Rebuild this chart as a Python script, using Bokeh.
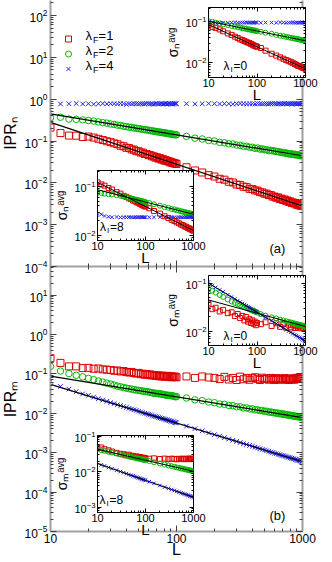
from bokeh.plotting import figure
from bokeh.models import (Range1d, LogAxis, FixedTicker, LogTickFormatter,
                          NumeralTickFormatter, CustomJSTickFormatter, Label, Legend, LegendItem)
from bokeh.layouts import column
from bokeh.embed import file_html
from bokeh.resources import INLINE

# ---------------------------------------------------------------- data
L_main = [10, 12, 14, 16, 18, 20, 22, 24, 26, 28, 30, 32, 34, 36, 38, 40, 42, 44, 46, 48,
          50, 52, 54, 56, 58, 60, 62, 64, 66, 68, 70, 72, 74, 76, 78, 80, 82, 84, 86, 88,
          90, 92, 94, 96, 98, 100,
          120, 140, 160, 180, 200, 220, 240, 260, 280, 300, 320, 340, 360, 380, 400, 420,
          440, 460, 480, 500, 520, 540, 560, 580, 600, 620, 640, 660, 680, 700, 720, 740,
          760, 780, 800, 820, 840, 860, 880, 900, 920, 940, 960, 980, 1000]

# panel (a): IPR_n
ipr_n_lam1 = [0.21, 0.155, 0.135, 0.134, 0.125, 0.128, 0.121, 0.113, 0.106, 0.099,
              0.094, 0.088, 0.084, 0.077, 0.075, 0.069, 0.068, 0.063, 0.062, 0.057,
              0.057, 0.053, 0.053, 0.049, 0.049, 0.046, 0.046, 0.043, 0.043, 0.040,
              0.041, 0.038, 0.039, 0.036, 0.037, 0.034, 0.035, 0.033, 0.0335, 0.031,
              0.032, 0.030, 0.0305, 0.029, 0.0292, 0.0283,
              0.0236, 0.0198, 0.0177, 0.0153, 0.0142, 0.0125, 0.0119, 0.0106, 0.0102, 0.0091,
              0.0089, 0.0081, 0.0079, 0.0072, 0.0071, 0.0066, 0.0065, 0.0060, 0.0059, 0.0055,
              0.0055, 0.0051, 0.0051, 0.0047, 0.0047, 0.0044, 0.0045, 0.0041, 0.0042, 0.0039,
              0.0040, 0.0037, 0.0038, 0.0035, 0.0036, 0.0033, 0.0034, 0.0032, 0.0033, 0.0030,
              0.0031, 0.0029, 0.0030, 0.0028, 0.0028]
ipr_n_lam2 = [0.36, 0.37, 0.335, 0.33, 0.32, 0.31, 0.30, 0.287, 0.275, 0.268,
              0.255, 0.25, 0.24, 0.235, 0.226, 0.222, 0.215, 0.212, 0.205, 0.203,
              0.197, 0.195, 0.189, 0.188, 0.183, 0.182, 0.177, 0.176, 0.171, 0.171,
              0.166, 0.166, 0.162, 0.162, 0.157, 0.158, 0.154, 0.154, 0.15, 0.15,
              0.146, 0.147, 0.143, 0.144, 0.14, 0.141,
              0.129, 0.117, 0.112, 0.103, 0.100, 0.093, 0.091, 0.086, 0.085, 0.080,
              0.079, 0.075, 0.075, 0.071, 0.071, 0.067, 0.068, 0.064, 0.065, 0.062,
              0.062, 0.059, 0.060, 0.058, 0.058, 0.056, 0.056, 0.054, 0.054, 0.052,
              0.053, 0.051, 0.051, 0.049, 0.050, 0.048, 0.049, 0.047, 0.048, 0.046,
              0.047, 0.045, 0.046, 0.044, 0.0445]
L_main_lam4 = L_main[1:]
ipr_n_lam4 = [0.77, 0.78, 0.79, 0.77, 0.78, 0.76, 0.78, 0.79, 0.77, 0.78,
              0.78, 0.77, 0.79, 0.78, 0.76, 0.78, 0.77, 0.79, 0.78, 0.77,
              0.78, 0.78, 0.77, 0.79, 0.78, 0.77, 0.78, 0.76, 0.78, 0.79,
              0.77, 0.78, 0.78, 0.77, 0.78, 0.79, 0.77, 0.78, 0.78, 0.77,
              0.78, 0.77, 0.79, 0.78, 0.78,
              0.78, 0.77, 0.78, 0.79, 0.78, 0.77, 0.78, 0.78, 0.76, 0.78,
              0.79, 0.78, 0.77, 0.78, 0.78, 0.77, 0.79, 0.78, 0.77, 0.78,
              0.78, 0.77, 0.78, 0.79, 0.78, 0.77, 0.78, 0.78, 0.77, 0.78,
              0.79, 0.78, 0.77, 0.78, 0.78, 0.77, 0.78, 0.79, 0.78, 0.77,
              0.78, 0.78, 0.77, 0.78, 0.78]

# panel (b): IPR_m
ipr_m_lam1 = [0.25, 0.19, 0.155, 0.155, 0.14, 0.142, 0.135, 0.137, 0.13, 0.128,
              0.125, 0.12, 0.122, 0.115, 0.118, 0.112, 0.108, 0.112, 0.105, 0.102,
              0.106, 0.098, 0.101, 0.095, 0.099, 0.093, 0.097, 0.091, 0.094, 0.089,
              0.092, 0.087, 0.091, 0.086, 0.09, 0.085, 0.088, 0.084, 0.089, 0.083,
              0.087, 0.082, 0.086, 0.083, 0.085, 0.082,
              0.086, 0.079, 0.086, 0.081, 0.079, 0.074, 0.084, 0.072, 0.079, 0.070,
              0.085, 0.073, 0.079, 0.071, 0.078, 0.082, 0.075, 0.070, 0.080, 0.074,
              0.077, 0.071, 0.079, 0.074, 0.070, 0.078, 0.073, 0.076, 0.071, 0.075,
              0.078, 0.072, 0.074, 0.070, 0.077, 0.073, 0.075, 0.071, 0.078, 0.074,
              0.080, 0.076, 0.082, 0.077, 0.079]
ipr_m_lam2 = [0.155, 0.118, 0.102, 0.092, 0.084, 0.077, 0.071, 0.066, 0.062, 0.058,
              0.055, 0.052, 0.049, 0.047, 0.045, 0.0435, 0.042, 0.041, 0.0398, 0.0388,
              0.0382, 0.0373, 0.0366, 0.0358, 0.0357, 0.0346, 0.034, 0.0334, 0.0322, 0.0323,
              0.0318, 0.0314, 0.0309, 0.031, 0.0301, 0.0297, 0.0293, 0.0284, 0.0286, 0.0283,
              0.028, 0.0281, 0.0273, 0.0271, 0.0262, 0.0265,
              0.0244, 0.0219, 0.0210, 0.0193, 0.0186, 0.0172, 0.0169, 0.0158, 0.0156, 0.0146,
              0.0146, 0.0137, 0.0137, 0.0129, 0.0129, 0.0122, 0.0123, 0.0117, 0.0118, 0.0112,
              0.0113, 0.0107, 0.0108, 0.0104, 0.0104, 0.0100, 0.0101, 0.0097, 0.0098, 0.0094,
              0.0095, 0.0091, 0.0092, 0.0089, 0.0090, 0.0087, 0.0087, 0.0084, 0.0085, 0.0082,
              0.0083, 0.0080, 0.0081, 0.0078, 0.0078]
ipr_m_lam4 = [0.065, 0.048, 0.041, 0.0355, 0.031, 0.0285, 0.0257, 0.0235, 0.0217, 0.0201,
              0.0187, 0.0176, 0.0165, 0.0156, 0.0148, 0.0141, 0.0134, 0.0128, 0.0123, 0.0118,
              0.0113, 0.0108, 0.0104, 0.0100, 0.0097, 0.0094, 0.0091, 0.0088, 0.0085, 0.0083,
              0.0081, 0.0078, 0.0076, 0.0074, 0.0073, 0.0071, 0.0069, 0.0068, 0.0066, 0.0065,
              0.0063, 0.0062, 0.0061, 0.0059, 0.0058, 0.0057,
              0.00473, 0.00407, 0.00357, 0.00318, 0.00287, 0.00262, 0.0024, 0.00222, 0.00206, 0.00193,
              0.00181, 0.0017, 0.00161, 0.00153, 0.00145, 0.00138, 0.00132, 0.00126, 0.00121, 0.00117,
              0.00112, 0.00108, 0.00104, 0.00101, 0.00097, 0.00094, 0.00091, 0.00089, 0.00086, 0.00084,
              0.00082, 0.0008, 0.00077, 0.00076, 0.00074, 0.00072, 0.0007, 0.00069, 0.00067, 0.00066,
              0.00064, 0.00063, 0.00062, 0.0006, 0.00059]

# fitted power laws (end points)
L_fit = [10, 1000]
fit_n_lam1 = [0.28, 0.0028]
fit_n_lam2 = [0.445, 0.0445]
fit_m_lam2 = [0.088, 0.0078]
fit_m_lam4 = [0.054, 0.00059]

# insets: sigma^avg
L_inset = [10, 12, 14, 17, 20, 25, 30, 35, 40, 45, 50, 55, 60, 65, 70, 75, 80, 85, 90, 95,
           100, 120, 150, 200, 250, 300, 350, 400, 450, 500, 550, 600, 650, 700, 750, 800,
           850, 900, 950, 1000]
sn0_lam1 = [0.079, 0.073, 0.0694, 0.0635, 0.0574, 0.051, 0.047, 0.0427, 0.0398, 0.0366,
            0.0353, 0.0336, 0.0321, 0.0307, 0.030, 0.0285, 0.0275, 0.0266, 0.0254, 0.0251,
            0.0244, 0.0228, 0.0197, 0.0166, 0.0150, 0.0136, 0.0126, 0.0117, 0.0110, 0.0106,
            0.0099, 0.0094, 0.0090, 0.0085, 0.0084, 0.0081, 0.0078, 0.0076, 0.0075, 0.0072]
sn0_lam2 = [0.100, 0.097, 0.092, 0.089, 0.084, 0.081, 0.077, 0.075, 0.072, 0.071,
            0.068, 0.067, 0.066, 0.064, 0.0635, 0.062, 0.0618, 0.060, 0.060, 0.059,
            0.058, 0.056, 0.053, 0.050, 0.047, 0.045, 0.0437, 0.042, 0.0412, 0.040,
            0.0391, 0.0385, 0.0376, 0.0371, 0.0363, 0.036, 0.0353, 0.035, 0.0344, 0.034]
sn0_lam4 = [0.096, 0.094, 0.093, 0.092, 0.093, 0.092, 0.093, 0.094, 0.092, 0.093,
            0.093, 0.092, 0.094, 0.093, 0.092, 0.093, 0.093, 0.092, 0.093, 0.094,
            0.093, 0.092, 0.093, 0.093, 0.092, 0.094, 0.093, 0.092, 0.093, 0.093,
            0.094, 0.092, 0.093, 0.093, 0.092, 0.093, 0.094, 0.093, 0.092, 0.093]
fit_sn0_lam1 = [0.083, 0.0072]
fit_sn0_lam2 = [0.100, 0.034]
sn8_lam1 = [0.12, 0.109, 0.103, 0.092, 0.086, 0.076, 0.071, 0.064, 0.061, 0.057,
            0.055, 0.0515, 0.050, 0.0475, 0.0465, 0.0445, 0.0435, 0.0415, 0.041, 0.0395,
            0.0388, 0.0358, 0.0315, 0.0279, 0.0246, 0.0228, 0.0209, 0.0198, 0.0185, 0.0177,
            0.0167, 0.0162, 0.0154, 0.0151, 0.0144, 0.0141, 0.0135, 0.0133, 0.0128, 0.0126]
sn8_lam2 = [0.074, 0.073, 0.071, 0.069, 0.068, 0.066, 0.0646, 0.0625, 0.0598, 0.0587,
            0.0566, 0.0557, 0.0541, 0.0534, 0.0521, 0.0516, 0.0503, 0.050, 0.0489, 0.0486,
            0.0476, 0.0459, 0.043, 0.0404, 0.0378, 0.0365, 0.0347, 0.034, 0.0326, 0.0322,
            0.031, 0.0307, 0.0297, 0.0296, 0.0287, 0.0286, 0.0279, 0.0277, 0.0271, 0.0269]
sn8_lam4 = [0.026, 0.027, 0.025, 0.024, 0.0235, 0.0238, 0.0233, 0.0236, 0.0234, 0.0237,
            0.0235, 0.0233, 0.0236, 0.0235, 0.0234, 0.0237, 0.0235, 0.0236, 0.0234, 0.0235,
            0.0236, 0.0234, 0.0235, 0.0237, 0.0235, 0.0234, 0.0236, 0.0235, 0.0233, 0.0235,
            0.0236, 0.0234, 0.0235, 0.0237, 0.0235, 0.0234, 0.0236, 0.0235, 0.0234, 0.0235]
fit_sn8_lam1 = [0.12, 0.0126]
fit_sn8_lam2 = [0.085, 0.027]
sm0_lam1 = [0.038, 0.029, 0.031, 0.026, 0.028, 0.024, 0.025, 0.021, 0.023, 0.019,
            0.021, 0.017, 0.020, 0.016, 0.018, 0.015, 0.017, 0.0145, 0.016, 0.0135,
            0.015, 0.0142, 0.0155, 0.013, 0.0148, 0.0125, 0.0143, 0.012, 0.0138, 0.0122,
            0.0135, 0.0118, 0.0132, 0.0121, 0.0128, 0.0117, 0.0131, 0.0119, 0.0127, 0.0121]
sm0_lam2 = [0.076, 0.070, 0.064, 0.057, 0.052, 0.046, 0.042, 0.039, 0.037, 0.035,
            0.0335, 0.032, 0.031, 0.0298, 0.0289, 0.028, 0.0273, 0.0266, 0.026, 0.0254,
            0.0248, 0.0229, 0.0213, 0.0197, 0.0186, 0.0176, 0.0169, 0.0163, 0.0158, 0.0154,
            0.0149, 0.0146, 0.0143, 0.014, 0.0137, 0.0135, 0.0132, 0.013, 0.0128, 0.0127]
sm0_lam4 = [0.106, 0.0896, 0.0817, 0.0727, 0.066, 0.0577, 0.0517, 0.0472, 0.0435, 0.0406,
            0.0381, 0.036, 0.0341, 0.0325, 0.0311, 0.0299, 0.0287, 0.0277, 0.0268, 0.0259,
            0.0251, 0.0225, 0.0197, 0.0166, 0.0145, 0.013, 0.0118, 0.0109, 0.0102, 0.0096,
            0.00903, 0.00857, 0.00817, 0.00781, 0.0075, 0.00721, 0.00696, 0.00672, 0.00651, 0.00631]
fit_sm0_lam2 = [0.045, 0.0127]
fit_sm0_lam4 = [0.10, 0.0063]
sm8_lam1 = [0.046, 0.048, 0.043, 0.040, 0.037, 0.034, 0.032, 0.031, 0.029, 0.030,
            0.027, 0.028, 0.026, 0.027, 0.025, 0.026, 0.0245, 0.025, 0.024, 0.0245,
            0.0236, 0.0232, 0.0238, 0.0228, 0.0234, 0.0226, 0.0233, 0.0229, 0.0224, 0.0231,
            0.0227, 0.0233, 0.0225, 0.023, 0.0228, 0.0235, 0.0226, 0.0231, 0.0229, 0.0232]
sm8_lam2 = [0.044, 0.0406, 0.0387, 0.0365, 0.0347, 0.0324, 0.0306, 0.0292, 0.028, 0.027,
            0.0261, 0.0253, 0.0247, 0.0241, 0.0235, 0.023, 0.0226, 0.0221, 0.0218, 0.0214,
            0.0211, 0.0199, 0.0186, 0.017, 0.0159, 0.015, 0.0143, 0.0137, 0.0132, 0.0128,
            0.0124, 0.0121, 0.0118, 0.0115, 0.0113, 0.0111, 0.0108, 0.0107, 0.0105, 0.0103]
sm8_lam4 = [0.018, 0.0156, 0.0145, 0.0132, 0.0122, 0.011, 0.0101, 0.0094, 0.0088, 0.0083,
            0.0079, 0.0076, 0.0073, 0.0070, 0.00675, 0.00653, 0.00633, 0.00615, 0.00599, 0.00583,
            0.0057, 0.00522, 0.0047, 0.0041, 0.00369, 0.00338, 0.00314, 0.00295, 0.00279, 0.00265,
            0.00253, 0.00243, 0.00234, 0.00226, 0.00219, 0.00212, 0.00206, 0.00201, 0.00196, 0.00191]
fit_sm8_lam2 = [0.043, 0.0103]
fit_sm8_lam4 = [0.017, 0.0019]

# ---------------------------------------------------------------- style
FONT = "Liberation Sans"
RED, GREEN, BLUE = "#dd0000", "#00bb00", "#2222ee"
GRAY, TICK = "#a0a0a0", "#404040"
BLANK = "return ''"
OFFX = 30                 # the container starts 30px left of the window edge
BT, BB = 24, 60           # generous top / bottom borders


def log_ticker(kmin, kmax):
    majors = [10.0 ** k for k in range(kmin, kmax + 1)]
    minors = [m * 10.0 ** k for k in range(kmin - 1, kmax + 1) for m in range(2, 10)]
    return FixedTicker(ticks=majors, minor_ticks=minors)


def style_axis(ax, ticker, show, size, lcolor, lwidth, tcolor, tin, mtin, fmt=None, tout=0, mtout=0):
    ax.ticker = ticker
    ax.axis_line_color = lcolor
    ax.axis_line_width = lwidth
    ax.major_tick_line_color = tcolor
    ax.minor_tick_line_color = tcolor
    ax.major_tick_in = tin
    ax.major_tick_out = tout
    ax.minor_tick_in = mtin
    ax.minor_tick_out = mtout
    ax.major_label_text_font = FONT
    ax.major_label_text_color = "black"
    ax.axis_label_text_font = FONT
    ax.axis_label_text_font_style = "normal"
    ax.axis_label_text_color = "black"
    if show:
        ax.formatter = fmt
        ax.major_label_text_font_size = size
        ax.major_label_standoff = 3
    else:
        ax.formatter = CustomJSTickFormatter(code=BLANK)
        ax.major_label_text_font_size = "1px"
        ax.major_label_standoff = 0


def text(p, x, y, parts, align="left"):
    for t, fs, dx, dy in parts:
        p.add_layout(Label(x=x, y=y, text=t, x_offset=dx, y_offset=dy,
                           text_font=FONT, text_font_size=f"{fs}px", text_color="black",
                           text_align=align, text_baseline="middle"))


def points(p, L, s1, s2, s4, L4=None, big=True):
    sz = 7 if big else 5
    sc = 6.5 if big else 5
    r1 = p.scatter(L, s1, marker="square", size=sz, fill_color=None, line_color=RED, line_width=1)
    r2 = p.scatter(L, s2, marker="circle", size=sc, fill_color=None, line_color=GREEN, line_width=1)
    r4 = p.scatter(L4 if L4 is not None else L, s4, marker="x", size=sc, line_color=BLUE, line_width=1)
    return r1, r2, r4


def framed(fx, fy, fw, fh, bl, br, bt, **kw):
    """figure whose frame lands at window box (fx, fy, fw, fh)"""
    return figure(width=bl + fw + br, height=bt + fh + BB,
                  min_border_left=bl, min_border_right=br,
                  min_border_top=bt, min_border_bottom=BB,
                  x_axis_type="log", y_axis_type="log",
                  output_backend="svg", toolbar_location=None,
                  styles={"position": "absolute", "left": f"{fx - bl + OFFX}px",
                          "top": f"{fy - bt}px"}, **kw)


def main_panel(fy, fh, y_lo, y_hi, kmin, kmax, ylabel):
    p = framed(50, fy, 272, fh, 80, 10, 0, x_range=Range1d(10, 1000), y_range=Range1d(y_lo, y_hi),
               outline_line_color=None, background_fill_alpha=0, border_fill_alpha=0)
    p.xgrid.visible = False
    p.ygrid.visible = False
    style_axis(p.yaxis[0], log_ticker(kmin, kmax), True, "12px", GRAY, 2, TICK, 6, 3,
               LogTickFormatter())
    p.yaxis[0].axis_label = ylabel
    p.yaxis[0].axis_label_text_font_size = "16px"
    p.yaxis[0].axis_label_standoff = 3
    ra = LogAxis()
    style_axis(ra, log_ticker(kmin, kmax), False, "1px", GRAY, 2, TICK, 6, 3)
    p.add_layout(ra, "right")
    return p


def inset(L, s1, s2, s4, fits, y_lo, y_hi, kmin, kmax, fx, fy, fw, fh, ylabel):
    p = framed(fx, fy, fw, fh, 80, 30, BT, x_range=Range1d(10, 1000), y_range=Range1d(y_lo, y_hi),
               border_fill_alpha=0, background_fill_color="white",
               outline_line_color="black", outline_line_width=1)
    p.xgrid.visible = False
    p.ygrid.visible = False
    style_axis(p.xaxis[0], log_ticker(1, 3), True, "11px", None, 1, "black", 4, 2,
               NumeralTickFormatter(format="0"))
    p.xaxis[0].major_label_standoff = 1
    p.xaxis[0].axis_label = "L"
    p.xaxis[0].axis_label_text_font_size = "15px"
    p.xaxis[0].axis_label_standoff = -4
    style_axis(p.yaxis[0], log_ticker(kmin, kmax), True, "11px", None, 1, "black", 4, 2,
               LogTickFormatter())
    p.yaxis[0].major_label_standoff = 2
    p.yaxis[0].axis_label = ylabel
    p.yaxis[0].axis_label_text_font_size = "14px"
    p.yaxis[0].axis_label_standoff = 1
    ra = LogAxis()
    style_axis(ra, log_ticker(kmin, kmax), False, "1px", None, 1, "black", 4, 2)
    p.add_layout(ra, "right")
    ta = LogAxis()
    style_axis(ta, log_ticker(1, 3), False, "1px", None, 1, "black", 4, 2)
    p.add_layout(ta, "above")
    points(p, L, s1, s2, s4, big=False)
    for f in fits:
        p.line(L_fit, f, line_color="black", line_width=1)
    return p


def lam_label(p, x, y, num):
    text(p, x, y, [("\u03bb", 12, 0, 0), ("I", 8, 7, -3.5), ("=" + num, 12, 10, 0)])


SIG_N = "\u03c3\u2099\u1d43\u1d5b\u1d4d"
SIG_M = "\u03c3\u2098\u1d43\u1d5b\u1d4d"

# ---------------------------------------------------------------- panel (a)
pa = main_panel(0, 266, 1e-4, 10 ** 2.36, -4, 2, "IPR\u2099")
# bottom edge of (a) = top edge of (b): ticks both ways, no labels
style_axis(pa.xaxis[0], log_ticker(1, 3), False, "1px", GRAY, 2, TICK, 6, 3, tout=6, mtout=3)
ra1, ra2, ra4 = points(pa, L_main, ipr_n_lam1, ipr_n_lam2, ipr_n_lam4, L4=L_main_lam4)
pa.line(L_fit, fit_n_lam1, line_color="black", line_width=1.2)
pa.line(L_fit, fit_n_lam2, line_color="black", line_width=1.2)
leg = Legend(items=[LegendItem(label=" ", renderers=[ra1]),
                    LegendItem(label=" ", renderers=[ra2]),
                    LegendItem(label=" ", renderers=[ra4])],
             location=(10, 190), padding=4, spacing=0, glyph_width=16, glyph_height=15,
             label_height=14, label_width=1, label_standoff=0, label_text_font_size="6px",
             border_line_color=None, background_fill_alpha=0, margin=0)
pa.add_layout(leg)
for yv, num in [(10 ** 1.522, "1"), (10 ** 1.164, "2"), (10 ** 0.805, "4")]:
    text(pa, 19.0, yv, [("\u03bb", 13, 0, 0), ("F", 9, 7.5, -4), ("=" + num, 13, 13, 0)])
text(pa, 632, 10 ** -3.57, [("(a)", 13, 0, 0)], align="center")

# ---------------------------------------------------------------- panel (b)
pb = main_panel(266, 265, 1e-5, 10 ** 1.725, -5, 1, "IPR\u2098")
style_axis(pb.xaxis[0], log_ticker(1, 3), True, "12px", GRAY, 2, TICK, 6, 3,
           NumeralTickFormatter(format="0"))
pb.xaxis[0].major_label_standoff = 2
pb.xaxis[0].axis_label = "L"
pb.xaxis[0].axis_label_text_font_size = "16px"
pb.xaxis[0].axis_label_standoff = -5
points(pb, L_main, ipr_m_lam1, ipr_m_lam2, ipr_m_lam4)
pb.line(L_fit, fit_m_lam2, line_color="black", line_width=1.2)
pb.line(L_fit, fit_m_lam4, line_color="black", line_width=1.2)
text(pb, 632, 10 ** -4.59, [("(b)", 13, 0, 0)], align="center")

# ---------------------------------------------------------------- insets
ia0 = inset(L_inset, sn0_lam1, sn0_lam2, sn0_lam4, [fit_sn0_lam1, fit_sn0_lam2],
            10 ** -2.35, 10 ** -0.67, -3, -1, 208, 7, 97, 70, SIG_N)
lam_label(ia0, 20.4, 10 ** -2.07, "0")

ia8 = inset(L_inset, sn8_lam1, sn8_lam2, sn8_lam4, [fit_sn8_lam1, fit_sn8_lam2],
            10 ** -2.1, 10 ** -0.68, -3, -1, 97, 170, 96, 70, SIG_N)
lam_label(ia8, 11.3, 10 ** -1.82, "8")

ib0 = inset(L_inset, sm0_lam1, sm0_lam2, sm0_lam4, [fit_sm0_lam2, fit_sm0_lam4],
            10 ** -2.29, 10 ** -0.84, -3, -1, 208, 275, 97, 70, SIG_M)
lam_label(ib0, 20.4, 10 ** -2.1, "0")

ib8 = inset(L_inset, sm8_lam1, sm8_lam2, sm8_lam4, [fit_sm8_lam2, fit_sm8_lam4],
            10 ** -3.15, 10 ** -0.98, -4, -1, 97, 435, 96, 77, SIG_M)
lam_label(ib8, 11.0, 10 ** -2.8, "8")

root = column(pa, pb, ia0, ia8, ib0, ib8,
              styles={"position": "relative", "left": f"-{OFFX}px", "overflow": "hidden",
                      "width": f"{332 + OFFX}px", "height": "562px"})

open("out.html", "w").write(file_html(root, INLINE))
